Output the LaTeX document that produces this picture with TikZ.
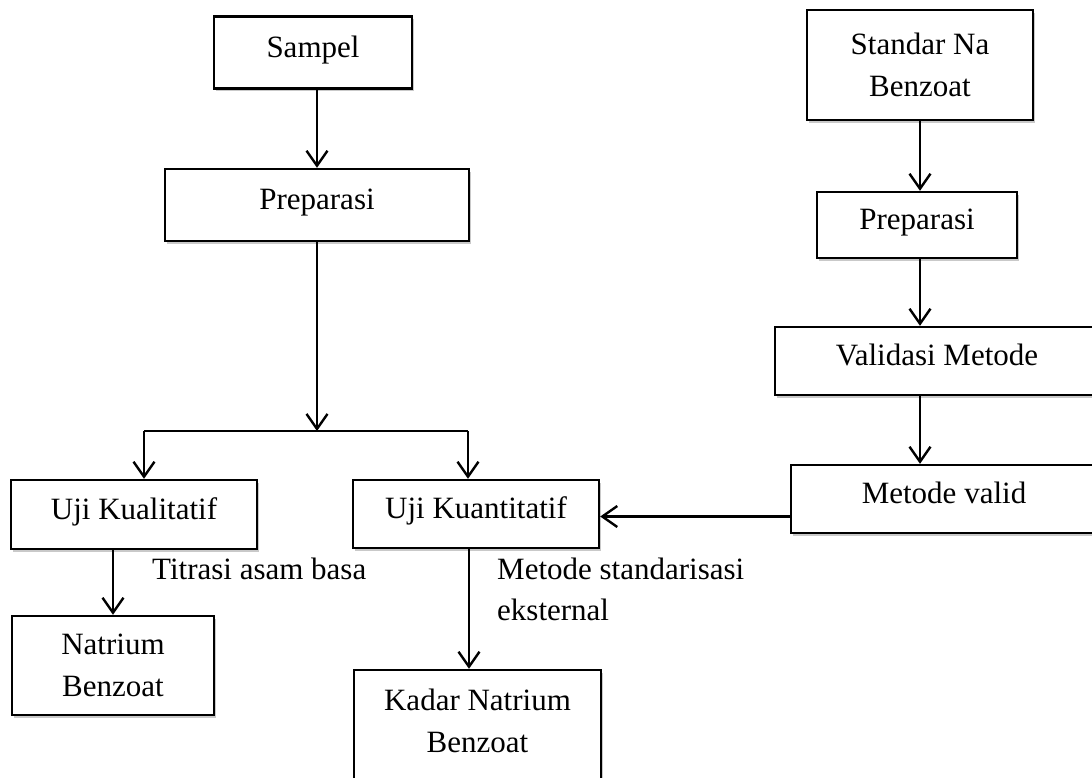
\documentclass[tikz,border=0pt]{standalone}
\usepackage{fontspec}
\setmainfont{Liberation Serif}
\usetikzlibrary{arrows.meta,shadows}
\begin{document}
\begin{tikzpicture}[x=1pt,y=-1pt,
  every node/.style={font=\fontsize{31}{41.5}\selectfont},
  box/.style={draw, line width=2.4pt, fill=white, inner sep=0pt,
    drop shadow={shadow xshift=2pt, shadow yshift=-2.5pt, opacity=0.35, fill=black!60}},
  oneline/.style={text height=21pt, text depth=12pt},
  arr/.style={line width=2.4pt, -{Straight Barb[length=15pt,width=21pt,line width=2.4pt]}},
  conn/.style={line width=2.4pt},
  lbl/.style={inner sep=0pt}]
\useasboundingbox (0,0) rectangle (1092,777);
\clip (0,0) rectangle (1092,777);
\fill[white] (0,0) rectangle (1092,777);

% left column
\node[box, oneline, minimum width=198pt, minimum height=72pt] (sampel) at (313,52.5) {Sampel};
\node[box, oneline, minimum width=304pt, minimum height=72pt] (prepL) at (317,205) {Preparasi};
\node[box, oneline, minimum width=246pt, minimum height=69pt] (kual) at (134,514.5) {Uji Kualitatif};
\node[box, oneline, minimum width=246pt, minimum height=68pt] (kuan) at (476,514) {Uji Kuantitatif};
\node[box, align=center, minimum width=202pt, minimum height=99pt] (natrium) at (113,665.5) {Natrium\\Benzoat};
\node[box, align=center, minimum width=247pt, minimum height=130pt] (kadar) at (477.5,735) {};
\node[lbl, align=center] (kadartxt) at (477.5,721) {Kadar Natrium\\Benzoat};

% right column
\node[box, align=center, minimum width=226pt, minimum height=110pt] (standar) at (920,65) {Standar Na\\Benzoat};
\node[box, oneline, minimum width=200pt, minimum height=66pt] (prepR) at (917,225) {Preparasi};
\node[box, oneline, minimum width=324pt, minimum height=68pt] (valid) at (937,361) {Validasi Metode};
\node[box, oneline, minimum width=306pt, minimum height=68pt] (mvalid) at (944,499) {Metode valid};

% labels
\node[lbl, anchor=base west] (titrasi) at (152,579) {Titrasi asam basa};
\node[lbl, align=left, anchor=north west] (metode) at (497,557.5) {Metode standarisasi\\eksternal};

% connectors left
\coordinate (junc) at (317,431);
\coordinate (bl) at (144,431);
\coordinate (br) at (468,431);
\draw[arr] (sampel.south -| prepL.north) -- (prepL.north);
\draw[arr] (prepL.south) -- (junc);
\draw[conn] (bl) -- (br);
\draw[arr] (bl) -- (bl |- kual.north);
\draw[arr] (br) -- (br |- kuan.north);
\draw[arr] (natrium.north |- kual.south) -- (natrium.north);
\draw[arr] ([xshift=-7pt]kuan.south) -- ([xshift=-8.5pt]kadar.north);

% connectors right
\draw[arr] (standar.south) -- (standar.south |- prepR.north);
\draw[arr] (prepR.south -| standar.south) -- (valid.north -| standar.south);
\draw[arr] (valid.south -| standar.south) -- (mvalid.north -| standar.south);
\draw[arr] ([yshift=-2.5pt]mvalid.west |- kuan.east) -- ([yshift=-2.5pt]kuan.east);
\end{tikzpicture}
\end{document}
